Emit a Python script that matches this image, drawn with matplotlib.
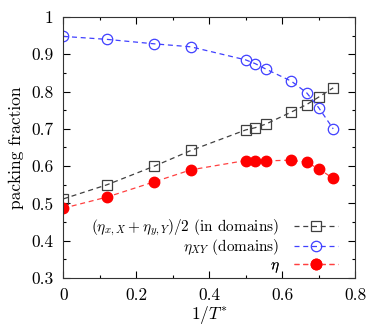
import matplotlib
matplotlib.use("Agg")
import matplotlib.pyplot as plt
from matplotlib.ticker import MultipleLocator, FuncFormatter

plt.rcParams['font.family'] = ['cmr10', 'DejaVu Serif']
plt.rcParams['mathtext.fontset'] = 'cm'
plt.rcParams['axes.formatter.use_mathtext'] = True
plt.rcParams['font.size'] = 12.5

inv_T = [0, 0.12, 0.25, 0.35, 0.5, 0.526, 0.556, 0.625, 0.667, 0.70, 0.74]
eta_avg = [0.512, 0.550, 0.600, 0.642, 0.697, 0.703, 0.713, 0.745, 0.765, 0.785, 0.810]
eta_xy = [0.948, 0.940, 0.928, 0.920, 0.885, 0.875, 0.860, 0.828, 0.797, 0.757, 0.700]
eta = [0.487, 0.517, 0.558, 0.590, 0.615, 0.615, 0.614, 0.616, 0.610, 0.593, 0.567]

labels = [r'$(\eta_{x,X}+\eta_{y,Y})/2$ (in domains)', r'$\eta_{XY}$ (domains)', r'$\eta$']

fig = plt.figure(figsize=(3.81, 3.27), dpi=100)
ax = fig.add_axes([0.166, 0.15, 0.766, 0.798])

dash = (0, (4, 3))
h1, = ax.plot(inv_T, eta_avg, linestyle=dash, color='#404040', lw=0.9, marker='s', ms=7,
              mfc='none', mec='#404040', mew=0.9, label=labels[0])
h2, = ax.plot(inv_T, eta_xy, linestyle=dash, color='#4040ff', lw=0.9, marker='o', ms=7.5,
              mfc='none', mec='#4040ff', mew=0.9, label=labels[1])
h3, = ax.plot(inv_T, eta, linestyle=dash, color='#ff4040', lw=0.9, marker='o', ms=7.5,
              mfc='red', mec='red', label=labels[2])

ax.set_xlim(0, 0.8)
ax.set_ylim(0.3, 1.0)
ax.xaxis.set_major_locator(MultipleLocator(0.2))
ax.xaxis.set_minor_locator(MultipleLocator(0.1))
ax.yaxis.set_major_locator(MultipleLocator(0.1))
ax.yaxis.set_minor_locator(MultipleLocator(0.05))
fmt = FuncFormatter(lambda v, p: ('%g' % round(v, 3)))
ax.xaxis.set_major_formatter(fmt)
ax.yaxis.set_major_formatter(fmt)
ax.tick_params(which='major', direction='in', top=True, right=True, length=5, width=0.8, pad=7)
ax.tick_params(which='minor', direction='in', top=True, right=True, length=2.5, width=0.8)
for s in ax.spines.values():
    s.set_linewidth(0.8)
    s.set_color('#333333')

ax.set_xlabel(r'$1/T^{*}$', labelpad=1)
ax.set_ylabel('packing fraction', labelpad=5)

row_y = [0.192, 0.117, 0.042]
for h, lab, yy in zip([h1, h2, h3], labels, row_y):
    lg = ax.legend([h], [lab], loc='center right', frameon=False, markerfirst=False,
                   handlelength=2.9, borderaxespad=0.0, borderpad=0.0, handletextpad=0.95,
                   fontsize=11, bbox_to_anchor=(0.942, yy))
    ax.add_artist(lg)

fig.savefig('out.png', dpi=100)
